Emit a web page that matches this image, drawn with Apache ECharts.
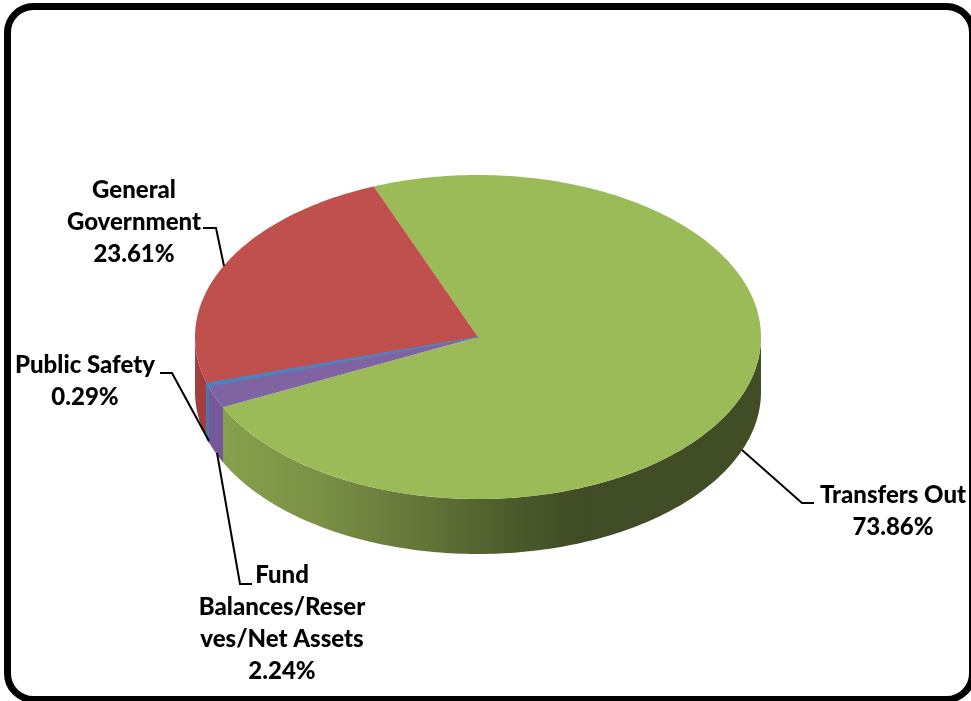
<!DOCTYPE html>
<html>
<head>
<meta charset="utf-8">
<style>html,body{margin:0;padding:0;background:#fff}#c{width:971px;height:701px}</style>
<script src="https://cdn.jsdelivr.net/npm/echarts@6/dist/echarts.min.js"></script>
</head>
<body>
<div id="c"></div>
<script>
const categories = ['Transfers Out', 'Fund Balances/Reserves/Net Assets', 'Public Safety', 'General Government'];
const wrappedNames = ['Transfers Out', 'Fund\nBalances/Reser\nves/Net Assets', 'Public Safety', 'General\nGovernment'];
const percents = [73.86, 2.24, 0.29, 23.61];
const topColors = ['#9BBB59', '#8064A2', '#4F81BD', '#C0504D'];

const startAngle = 338.4;
const cx = 478, cy = 337, rx = 283, ry = 162, depth = 55;
const labelPos = [[893, 511], [282, 623], [85, 381], [134, 222]];
const leaders = [
  [[742, 450], [802, 503], [814, 503]],
  [[217, 453], [240, 584], [252, 584]],
  [[209, 441], [172, 373], [160, 373]],
  [[224, 266], [216, 228], [203, 228]]
];
const outline = [0, 0, 1.2, 0];
const wallFill = [
  {type:'linear',x:225,y:0,x2:761,y2:0,global:true,colorStops:[
    {offset:0,color:'#87A04C'},{offset:0.18,color:'#7A9045'},{offset:0.35,color:'#66783A'},
    {offset:0.52,color:'#4D5D2C'},{offset:0.66,color:'#3F4C25'},{offset:1,color:'#414D25'}]},
  '#76589A', '#4A76AC', '#A03F3D'
];

const total = percents.reduce((a, b) => a + b, 0);
function pt(deg, dy) {
  const a = deg * Math.PI / 180;
  return [cx + rx * Math.sin(a), cy - ry * Math.cos(a) + (dy || 0)];
}
function arc(a0, a1, dy) {
  const out = [], n = Math.max(2, Math.ceil(Math.abs(a1 - a0)));
  for (let i = 0; i <= n; i++) out.push(pt(a0 + (a1 - a0) * i / n, dy));
  return out;
}
function renderItem(params, api) {
  const i = params.dataIndex;
  let acc = 0;
  for (let k = 0; k < i; k++) acc += percents[k];
  const a0 = startAngle + acc / total * 360;
  const a1 = a0 + api.value(0) / total * 360;
  const children = [];
  const lift = outline[i] ? 1 : 0;
  [[90, 270], [450, 630]].forEach(function (r) {
    const s = Math.max(a0, r[0]), e = Math.min(a1, r[1]);
    if (e > s) {
      const pts = arc(s, e, 0).concat(arc(e, s, depth));
      children.push({type:'polygon', z2:1 + lift, shape:{points:pts}, style:{
        fill:wallFill[i], stroke:outline[i] ? wallFill[i] : null, lineWidth:outline[i]}});
    }
  });
  children.push({type:'polygon', z2:5 + lift, shape:{points:[[cx, cy]].concat(arc(a0, a1, 0))}, style:{
    fill:topColors[i], stroke:outline[i] ? topColors[i] : null, lineWidth:outline[i]}});
  children.push({type:'polyline', z2:8, shape:{points:leaders[i]}, style:{fill:null, stroke:'#000', lineWidth:2}});
  children.push({type:'text', z2:9, style:{
    text: wrappedNames[i] + '\n' + api.value(0).toFixed(2) + '%',
    x: labelPos[i][0], y: labelPos[i][1], align:'center', verticalAlign:'middle',
    font:'900 24px Lato', lineHeight:32, fill:'#000'
  }});
  return {type:'group', children};
}
const chart = echarts.init(document.getElementById('c'), null, {renderer:'canvas'});
chart.setOption({
  animation:false,
  backgroundColor:'#fff',
  graphic:[{type:'rect', z:-1, shape:{x:7.5,y:6.5,width:965,height:693,r:26}, style:{fill:'#fff',stroke:'#000',lineWidth:7}}],
  series:[{type:'custom', coordinateSystem:'none', renderItem, data:percents.map((v,i)=>({name:categories[i],value:[v]}))}]
});
</script>
</body>
</html>
